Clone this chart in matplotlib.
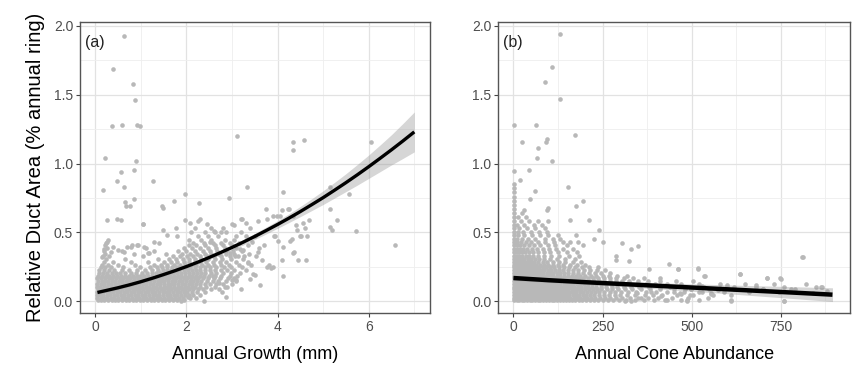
import numpy as np
import matplotlib
matplotlib.use("Agg")
import matplotlib.pyplot as plt
from matplotlib.ticker import MultipleLocator

plt.rcParams['font.family'] = ['Liberation Sans', 'DejaVu Sans']

# ---- panel (a): duct area vs annual growth ----
# dense part of the cloud, one row per duct-area level: "y: x x x ..."
a_cloud_rows = """
0.005: 0.06 0.13 0.20 0.29 0.36 0.44 0.51 0.60 0.67 0.75 0.83 0.90 0.99 1.06 1.14 1.22 1.30 1.37 1.46 1.53 1.62 1.70 1.79 1.95
0.025: 0.04 0.12 0.19 0.27 0.35 0.42 0.50 0.58 0.66 0.73 0.81 0.89 0.97 1.04 1.12 1.20 1.28 1.35 1.43 1.51 1.59 1.67 1.75 1.83 1.92 2.08 2.21
0.045: 0.05 0.11 0.18 0.26 0.33 0.41 0.49 0.56 0.64 0.72 0.79 0.87 0.95 1.03 1.10 1.18 1.26 1.34 1.41 1.49 1.57 1.65 1.73 1.80 1.88 1.97 2.05 2.15 2.30
0.065: 0.03 0.10 0.17 0.25 0.32 0.40 0.47 0.55 0.63 0.70 0.78 0.86 0.93 1.01 1.09 1.17 1.24 1.32 1.40 1.48 1.55 1.63 1.71 1.79 1.86 1.94 2.02 2.12 2.24 2.42
0.085: 0.06 0.13 0.21 0.28 0.36 0.44 0.51 0.59 0.67 0.74 0.82 0.90 0.97 1.05 1.13 1.21 1.28 1.36 1.44 1.52 1.59 1.67 1.75 1.82 1.90 1.98 2.06 2.14 2.25 2.36 2.55 2.71
0.105: 0.04 0.11 0.19 0.27 0.34 0.42 0.50 0.57 0.65 0.73 0.80 0.88 0.96 1.03 1.11 1.19 1.27 1.34 1.42 1.50 1.58 1.65 1.73 1.81 1.89 1.96 2.04 2.12 2.20 2.31 2.44 2.62 2.85
0.125: 0.05 0.12 0.20 0.28 0.35 0.43 0.51 0.58 0.66 0.74 0.81 0.89 0.97 1.04 1.12 1.20 1.28 1.35 1.43 1.51 1.59 1.66 1.74 1.82 1.90 1.97 2.05 2.13 2.21 2.30 2.40 2.52 2.66 2.81 3.00
0.145: 0.06 0.14 0.21 0.29 0.37 0.44 0.52 0.60 0.67 0.75 0.83 0.90 0.98 1.06 1.14 1.21 1.29 1.37 1.45 1.52 1.60 1.68 1.76 1.83 1.91 1.99 2.07 2.15 2.23 2.33 2.45 2.58 2.70 2.88 3.10
0.165: 0.05 0.13 0.22 0.30 0.38 0.46 0.54 0.61 0.69 0.77 0.85 0.93 1.00 1.08 1.16 1.24 1.32 1.39 1.47 1.55 1.63 1.71 1.78 1.86 1.94 2.02 2.10 2.18 2.26 2.36 2.47 2.60 2.74 2.92 3.05
0.185: 0.07 0.15 0.23 0.31 0.40 0.48 0.57 0.65 0.74 0.82 0.91 0.99 1.08 1.16 1.25 1.33 1.41 1.49 1.57 1.65 1.73 1.81 1.89 1.97 2.05 2.13 2.21 2.29 2.38 2.50 2.63 2.77 2.95 3.12
0.205: 0.08 0.17 0.26 0.36 0.45 0.55 0.66 0.78 0.90 1.02 1.13 1.24 1.34 1.43 1.52 1.61 1.70 1.79 1.88 1.96 2.05 2.14 2.23 2.32 2.42 2.54 2.66 2.80 2.98 3.18
0.225: 0.09 0.19 0.30 0.42 0.58 0.75 0.92 1.10 1.25 1.38 1.48 1.58 1.67 1.76 1.85 1.94 2.03 2.12 2.21 2.30 2.40 2.51 2.62 2.75 2.90 3.05 3.30
0.245: 0.12 0.22 0.35 0.62 0.98 1.20 1.35 1.47 1.58 1.69 1.79 1.89 1.99 2.09 2.19 2.29 2.40 2.52 2.66 2.82 2.99 3.22
0.265: 0.15 0.28 0.50 0.88 1.30 1.45 1.58 1.72 1.86 1.98 2.10 2.22 2.34 2.47 2.61 2.76 2.93 3.15 3.42
0.285: 0.20 0.40 0.78 1.15 1.52 1.66 1.80 1.94 2.06 2.18 2.31 2.44 2.58 2.73 2.88 3.08 3.35
0.305: 0.24 0.66 1.38 1.62 1.78 1.92 2.05 2.19 2.33 2.47 2.62 2.79 2.97 3.25
0.325: 0.18 0.30 1.05 1.70 1.86 2.01 2.15 2.30 2.45 2.60 2.76 2.95 3.14 3.52
0.345: 0.22 0.85 1.55 1.90 2.08 2.24 2.40 2.55 2.71 2.88 3.05 3.38
0.365: 0.20 0.60 1.30 1.82 2.00 2.18 2.36 2.52 2.68 2.86 3.02 3.22
0.385: 0.26 1.12 1.95 2.12 2.30 2.48 2.65 2.84 3.10 3.60
0.405: 0.21 0.80 2.05 2.22 2.42 2.62 2.80 3.00 3.35
0.425: 0.24 1.40 2.15 2.38 2.58 2.76 2.95 3.15
0.445: 0.28 2.05 2.32 2.55 2.85 3.05
0.470: 1.80 2.25 2.48 2.70 3.08 3.30
0.500: 2.10 2.40 2.62 2.88 3.20
0.530: 2.20 2.55 2.80 3.40
0.560: 2.45 3.00
"""

# scattered points away from the cloud
a_sparse_x = [0.64, 0.40, 0.82, 0.88, 0.37, 0.59, 0.91, 0.99, 0.22, 0.89, 0.56, 0.86, 0.49, 0.64, 0.17, 1.27,
              3.12, 4.34, 4.35, 4.57, 3.33, 1.98, 1.73, 2.27, 2.93, 4.12, 5.16, 5.56, 6.06, 5.73, 6.58, 5.16, 5.19, 5.30, 5.16,
              0.66, 0.68, 0.77, 0.86, 0.27, 0.49, 0.56, 1.05, 1.49, 1.98, 2.07, 2.29,
              3.75, 3.77, 3.90, 4.10, 4.26, 4.35, 3.20, 3.31, 4.70, 4.61, 4.43, 4.50, 4.65, 4.28, 4.35, 4.46, 4.63, 4.12,
              4.12, 4.10, 3.77, 3.86, 3.70, 3.17, 3.24, 3.44, 3.47, 3.00, 2.78, 2.71, 2.39, 2.03, 1.88, 3.27, 2.96, 3.07,
              3.93, 2.51, 1.57, 1.29, 1.15, 0.91, 0.69, 0.40, 0.51,
              3.99, 4.06, 4.22, 4.40, 4.56, 3.95, 4.00, 4.31, 4.51, 4.36, 3.81, 3.90, 3.51, 3.58, 3.51,
              1.46, 1.06, 2.25, 1.78, 1.49, 3.22, 3.04, 2.61, 2.76, 0.27, 0.20, 0.16, 0.35, 0.64, 0.79, 0.93, 1.19, 1.08,
              2.87, 2.90, 2.59, 3.10, 3.39, 3.65, 3.58, 3.35, 3.62, 3.20]
a_sparse_y = [1.93, 1.69, 1.58, 1.46, 1.27, 1.28, 1.28, 1.27, 1.04, 1.02, 0.94, 0.95, 0.87, 0.83, 0.81, 0.87,
              1.20, 1.16, 1.10, 1.17, 0.83, 0.78, 0.73, 0.71, 0.75, 0.79, 0.83, 0.78, 1.16, 0.51, 0.41, 0.54, 0.52, 0.59, 0.67,
              0.72, 0.69, 0.69, 0.74, 0.59, 0.60, 0.59, 0.56, 0.68, 0.59, 0.57, 0.60,
              0.67, 0.60, 0.62, 0.66, 0.67, 0.62, 0.60, 0.57, 0.59, 0.53, 0.52, 0.47, 0.47, 0.44, 0.35, 0.30, 0.30, 0.18,
              0.39, 0.30, 0.25, 0.24, 0.41, 0.38, 0.37, 0.43, 0.20, 0.15, 0.07, 0.13, 0.00, 0.03, 0.00, 0.33, 0.35, 0.33,
              0.47, 0.43, 0.48, 0.43, 0.35, 0.41, 0.39, 0.39, 0.37,
              0.62, 0.62, 0.67, 0.55, 0.57, 0.47, 0.44, 0.45, 0.47, 0.36, 0.26, 0.25, 0.19, 0.58, 0.47,
              0.69, 0.56, 0.58, 0.53, 0.52, 0.60, 0.55, 0.51, 0.50, 0.43, 0.38, 0.32, 0.36, 0.36, 0.39, 0.41, 0.35, 0.39,
              0.03, 0.10, 0.18, 0.15, 0.16, 0.30, 0.36, 0.28, 0.12, 0.09]

# fitted curve and its confidence band, read every 0.25 mm
a_fit_x = [0.05, 0.25, 0.5, 0.75, 1.0, 1.25, 1.5, 1.75, 2.0, 2.25, 2.5, 2.75, 3.0, 3.25, 3.5,
           3.75, 4.0, 4.25, 4.5, 4.75, 5.0, 5.25, 5.5, 5.75, 6.0, 6.25, 6.5, 6.75, 7.0]
a_fit_y = [0.063, 0.078, 0.097, 0.118, 0.141, 0.166, 0.193, 0.221, 0.251, 0.283, 0.317, 0.353, 0.390, 0.429, 0.470,
           0.513, 0.557, 0.603, 0.651, 0.701, 0.752, 0.806, 0.861, 0.918, 0.977, 1.038, 1.100, 1.164, 1.230]
a_fit_hi = [0.075, 0.090, 0.109, 0.130, 0.153, 0.178, 0.205, 0.234, 0.264, 0.297, 0.332, 0.370, 0.408, 0.449, 0.492,
            0.538, 0.585, 0.635, 0.688, 0.744, 0.802, 0.863, 0.926, 0.993, 1.062, 1.135, 1.210, 1.291, 1.375]
a_fit_lo = [0.051, 0.066, 0.085, 0.106, 0.129, 0.154, 0.181, 0.209, 0.238, 0.269, 0.302, 0.337, 0.372, 0.409, 0.448,
            0.488, 0.529, 0.571, 0.614, 0.658, 0.702, 0.749, 0.796, 0.843, 0.892, 0.941, 0.990, 1.037, 1.085]

# ---- panel (b): duct area vs cone abundance ----
b_cloud_rows = """
0.005: 2 9 16 24 31 38 46 53 61 68 76 84 91 99 107 115 123 131 139 147 156 165 174 183 193 203 214 226 238 251 265 280 297 315 340 366 395 425 470 520
0.025: 1 8 15 22 29 37 44 51 59 66 74 81 89 97 104 112 120 128 136 144 152 160 169 178 187 197 207 218 230 243 257 272 288 306 326 350 378 405 445 490 545
0.045: 3 10 17 25 32 39 47 54 62 69 77 85 92 100 108 116 124 132 140 148 157 166 175 184 194 204 215 227 240 254 268 284 300 320 342 368 392 418 460 505 560 610
0.065: 1 7 14 21 28 35 43 50 57 65 72 80 87 95 103 110 118 126 134 142 150 159 168 177 186 196 206 217 229 241 255 270 286 303 322 345 372 400 432 478 530 590 660
0.085: 2 9 16 23 31 38 45 53 60 68 75 83 91 98 106 114 122 130 138 146 154 163 172 181 191 201 211 222 234 247 262 277 293 312 333 357 384 412 450 498 548 620 700 780
0.105: 1 8 15 22 29 36 44 51 58 66 73 81 89 96 104 112 120 128 136 144 153 162 171 180 190 200 210 221 233 246 260 276 292 310 330 352 380 410 440 485 535 600 680 760 850
0.125: 3 10 17 24 31 39 46 54 61 69 77 84 92 100 108 116 124 132 141 150 159 168 178 188 198 209 220 232 245 259 274 290 308 326 348 372 398 430 470 520 580 650 730 820
0.145: 2 9 16 23 30 37 45 52 60 67 75 83 91 99 107 115 123 132 141 150 159 169 179 190 201 213 226 240 255 271 288 306 325 350 378 410 455 505
0.165: 1 8 15 22 29 36 43 51 58 66 74 82 90 98 106 114 123 132 141 151 161 172 183 195 208 222 237 253 270 288 310 335 365
0.185: 3 10 17 24 31 38 46 53 61 69 77 85 94 103 112 121 131 141 152 163 175 188 202 217 233 250 268 290 318
0.205: 2 9 16 23 30 37 44 52 60 68 76 84 93 102 111 121 131 142 154 167 180 195 211 228 247 270
0.225: 1 8 15 22 29 36 44 52 60 68 77 86 96 106 117 128 140 153 167 182 198 216 235 258
0.245: 2 9 16 23 31 39 47 55 64 73 82 92 103 115 128 142 157 174 192 212 238
0.265: 1 8 15 22 30 38 46 55 64 74 85 97 110 124 140 158 178 200
0.285: 2 9 16 24 32 40 49 59 70 82 95 110 127 146 168 190
0.305: 1 8 15 23 31 40 50 61 73 87 103 122 145 172
0.330: 2 9 17 25 34 44 56 70 86 105 128 155 185
0.355: 1 8 16 24 33 43 55 69 85 104 126 150 178
0.380: 2 10 18 27 38 51 66 84 100 120 140 168
0.405: 1 9 19 30 43 58 76 96 118 150 195
0.430: 2 11 22 35 50 68 90 115 140 160 180
0.455: 1 10 24 42 62 88 110 132
0.480: 2 13 30 52 75 98 125 175
0.505: 1 12 28 48 72 95
0.530: 2 15 38 60 88
0.555: 1 10 30 58 80
0.580: 2 20 45 70 98
0.610: 1 12 35
0.640: 2 25
0.670: 1
0.700: 2
0.730: 1
0.760: 2
0.790: 1
0.820: 2
0.850: 1
"""

b_sparse_x = [131, 107, 88, 131, 2, 63, 93, 91, 25, 69, 65, 109, 172, 2, 19, 44, 60, 47, 153, 195, 177, 159, 212,
              93, 97, 30, 240, 226, 252, 306, 329, 350, 287, 287, 324, 381, 437, 462, 518, 537, 636, 712, 750, 811,
              867, 759, 610, 488, 432, 411, 385, 413, 451, 469, 497, 553, 348, 357, 312, 329,
              463, 517, 536, 635, 711, 749, 809, 863, 468, 496, 487, 520, 554, 609, 758,
              480, 530, 575, 620, 660, 700, 745, 790, 840, 880, 600, 680]
b_sparse_y = [1.94, 1.70, 1.59, 1.47, 1.28, 1.28, 1.18, 1.16, 1.16, 1.11, 1.04, 1.02, 1.21, 0.945, 0.88, 0.95, 0.80, 0.74, 0.83, 0.73, 0.69, 0.59, 0.59,
              0.66, 0.68, 0.66, 0.52, 0.45, 0.43, 0.42, 0.38, 0.40, 0.33, 0.30, 0.29, 0.23, 0.27, 0.23, 0.235, 0.18, 0.20, 0.17, 0.16, 0.32,
              0.10, 0.0, 0.0, 0.0, 0.01, 0.17, 0.07, 0.04, 0.065, 0.055, 0.085, 0.06, 0.06, 0.02, 0.0, 0.0,
              0.23, 0.24, 0.18, 0.20, 0.165, 0.165, 0.32, 0.10, 0.058, 0.043, 0.01, 0.063, 0.05, 0.007, 0.002,
              0.09, 0.11, 0.08, 0.10, 0.075, 0.09, 0.07, 0.085, 0.06, 0.075, 0.12, 0.115]

b_fit_x = [0, 100, 200, 300, 400, 500, 600, 700, 800, 895]
b_fit_y = [0.168, 0.152, 0.138, 0.125, 0.112, 0.099, 0.086, 0.073, 0.060, 0.047]
b_fit_hi = [0.186, 0.168, 0.154, 0.143, 0.134, 0.126, 0.118, 0.111, 0.104, 0.097]
b_fit_lo = [0.150, 0.136, 0.122, 0.107, 0.090, 0.072, 0.054, 0.035, 0.016, -0.003]


def parse_rows(text):
    xs, ys = [], []
    for line in text.strip().splitlines():
        yv, rest = line.split(':')
        for xv in rest.split():
            xs.append(float(xv))
            ys.append(float(yv))
    return np.array(xs), np.array(ys)


def style_axes(ax):
    ax.set_facecolor('white')
    ax.grid(True, which='major', color='#e2e2e2', lw=0.9)
    ax.grid(True, which='minor', color='#eeeeee', lw=0.6)
    ax.set_axisbelow(True)
    for s in ax.spines.values():
        s.set_color('#555555')
        s.set_linewidth(1.0)
    ax.tick_params(which='major', length=3, width=0.8, color='#444444',
                   labelcolor='#4d4d4d', labelsize=10, pad=2)
    ax.tick_params(which='minor', length=0)
    ax.set_ylim(-0.085, 2.03)
    ax.yaxis.set_major_locator(MultipleLocator(0.5))
    ax.yaxis.set_minor_locator(MultipleLocator(0.25))
    ax.yaxis.set_major_formatter(matplotlib.ticker.FormatStrFormatter('%.1f'))


pt_col = '#b8b8b8'
pt_size = 11
fig = plt.figure(figsize=(8.52, 3.76), dpi=100)
ax1 = fig.add_axes([0.094, 0.168, 0.411, 0.774])
ax2 = fig.add_axes([0.585, 0.168, 0.413, 0.774])

# panel a
cx, cy = parse_rows(a_cloud_rows)
ax1.scatter(cx, cy, s=pt_size, c=pt_col, linewidths=0)
ax1.scatter(a_sparse_x, a_sparse_y, s=pt_size, c=pt_col, linewidths=0)
ax1.fill_between(a_fit_x, a_fit_lo, a_fit_hi, color='#999999', alpha=0.4, lw=0)
ax1.plot(a_fit_x, a_fit_y, color='black', lw=2.4, solid_capstyle='butt')
style_axes(ax1)
ax1.set_xlim(-0.33, 7.35)
ax1.xaxis.set_major_locator(MultipleLocator(2))
ax1.xaxis.set_minor_locator(MultipleLocator(1))
ax1.set_xlabel('Annual Growth (mm)', fontsize=13, labelpad=9)
ax1.set_ylabel('Relative Duct Area (% annual ring)', fontsize=14.5, labelpad=6)
ax1.text(0.014, 0.93, '(a)', transform=ax1.transAxes, fontsize=11.5, va='center', color='#222222')

# panel b
cx, cy = parse_rows(b_cloud_rows)
ax2.scatter(cx, cy, s=pt_size, c=pt_col, linewidths=0)
ax2.scatter(b_sparse_x, b_sparse_y, s=pt_size, c=pt_col, linewidths=0)
ax2.fill_between(b_fit_x, b_fit_lo, b_fit_hi, color='#999999', alpha=0.4, lw=0)
ax2.plot(b_fit_x, b_fit_y, color='black', lw=3.2, solid_capstyle='butt')
style_axes(ax2)
ax2.set_xlim(-42, 945)
ax2.xaxis.set_major_locator(MultipleLocator(250))
ax2.xaxis.set_minor_locator(MultipleLocator(125))
ax2.set_xlabel('Annual Cone Abundance', fontsize=13, labelpad=9)
ax2.text(0.014, 0.93, '(b)', transform=ax2.transAxes, fontsize=11.5, va='center', color='#222222')

fig.savefig('out.png', dpi=100, facecolor='white')
